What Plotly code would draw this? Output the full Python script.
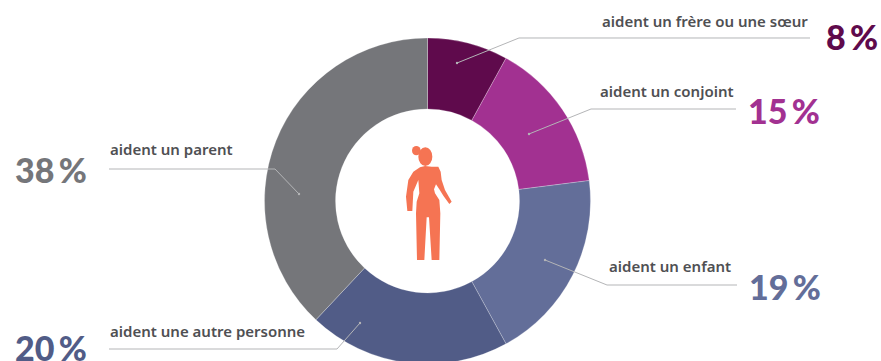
import plotly.graph_objects as go

W, H = 881, 368

categories = ["aident un frère ou une sœur", "aident un conjoint", "aident un enfant",
              "aident une autre personne", "aident un parent"]
values = [8, 15, 19, 20, 38]
pct_labels = ["8\u2009%", "15\u2009%", "19\u2009%", "20\u2009%", "38\u2009%"]
colors = ["#5f0a4c", "#a23191", "#636e99", "#515c87", "#75767a"]

CX, CY, R = 427.5, 201, 163
HOLE = 92 / 163
TEXT = "#4f5053"
LINE = "#b4b5b7"
LABEL_FONT = "Noto Sans"
BIG_FONT = "Lato"

label_pos = [(810, 21, "right"), (736, 91, "right"), (733, 266, "right"), (108, 331, "left"), (108, 149, "left")]
pct_pos = [(880, 36, "right"), (822, 110, "right"), (823, 286, "right"), (89, 347, "right"), (89, 170, "right")]
leaders = [
    [(810, 38), (519, 38), (457, 63)],
    [(736, 109), (591, 109), (529, 134)],
    [(737, 285), (607, 285), (545, 260)],
    [(109, 349), (337, 349), (360, 323)],
    [(109, 169), (275, 169), (299, 194)],
]

def px(x):
    return x / W

def py(y):
    return 1 - y / H

fig = go.Figure(go.Pie(
    labels=categories, values=values, sort=False, direction="clockwise", rotation=0,
    hole=HOLE, textinfo="none", showlegend=False,
    marker=dict(colors=colors, line=dict(color="#ffffff", width=0.25)),
    domain=dict(x=[px(CX - R), px(CX + R)], y=[py(CY + R), py(CY - R)]),
))

shapes = []
for pts in leaders:
    path = "M " + " L ".join(f"{px(x):.5f} {py(y):.5f}" for x, y in pts)
    shapes.append(dict(type="path", xref="paper", yref="paper", path=path,
                       line=dict(color=LINE, width=1)))
for pts in leaders:
    x, y = pts[-1]
    shapes.append(dict(type="circle", xref="paper", yref="paper",
                       x0=px(x - 1.2), x1=px(x + 1.2), y0=py(y + 1.2), y1=py(y - 1.2),
                       fillcolor=LINE, line=dict(width=0)))

ORANGE = "#f57453"
def zx(v):
    return 380 + v / 3
def zy(v):
    return 130 + v / 3
body = [(135,108),(155,110),(175,110),(182,125),(185,150),(195,180),(215,215),(208,222),(190,197),(178,178),
        (168,163),(162,178),(165,190),(178,210),(181,250),(178,390),(155,390),(147,262),(140,262),(133,390),(111,390),
        (108,250),(110,215),(118,190),(115,150),(100,185),(97,243),(82,243),(78,200),(85,150),(100,125),(120,112)]
shapes.append(dict(type="path", xref="paper", yref="paper", fillcolor=ORANGE, line=dict(width=0),
                   path="M " + " L ".join(f"{px(zx(a)):.5f} {py(zy(b)):.5f}" for a, b in body) + " Z"))
for cx, cy, rx, ry in [(109, 62, 13, 14), (136, 80, 21, 28)]:
    shapes.append(dict(type="circle", xref="paper", yref="paper", fillcolor=ORANGE, line=dict(width=0),
                       x0=px(zx(cx - rx)), x1=px(zx(cx + rx)), y0=py(zy(cy + ry)), y1=py(zy(cy - ry))))

annotations = []
for text, (x, y, a) in zip(categories, label_pos):
    annotations.append(dict(text=text, x=px(x), y=py(y), xref="paper", yref="paper", xanchor=a, yanchor="middle",
                            showarrow=False,
                            font=dict(family=LABEL_FONT, size=15, color=TEXT, weight=600)))
for text, c, (x, y, a) in zip(pct_labels, colors, pct_pos):
    annotations.append(dict(text=text, x=px(x), y=py(y), xref="paper", yref="paper", xanchor=a, yanchor="middle",
                            showarrow=False,
                            font=dict(family=BIG_FONT, size=34, color=c, weight=900)))

fig.update_layout(width=W, height=H, margin=dict(l=0, r=0, t=0, b=0), autosize=False,
                  paper_bgcolor="#ffffff", plot_bgcolor="#ffffff",
                  shapes=shapes, annotations=annotations)

fig.write_html("out.html", config={"displayModeBar": False},
               post_script="document.documentElement.style.overflow='hidden';document.body.style.margin='0';document.body.style.overflow='hidden';")
